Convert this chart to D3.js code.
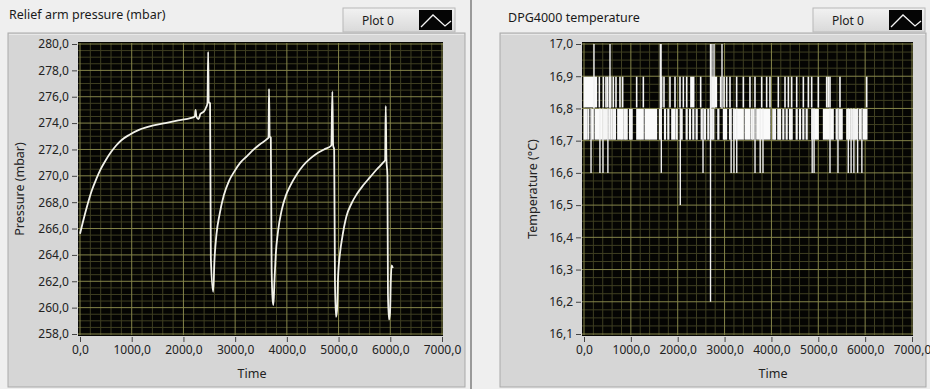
<!DOCTYPE html>
<html><head><meta charset="utf-8">
<script src="https://cdn.jsdelivr.net/npm/d3@7"></script>
<style>
body{margin:0;background:#efefef;}
svg{display:block;font-family:"Noto Sans",sans-serif;}
</style></head><body>
<svg id="c" width="930" height="389"></svg>
<script>
// ---- Relief arm pressure (mbar) vs time (s) ----
const pressureTime = [0,50,130,230,320,400,500,600,700,800,950,1150,1400,1650,1900,2150,2220,2235,2250,2290,2330,2400,2440,2465,2478,2490,2515,2530,
  2575,2600,2640,2700,2780,2880,2980,3100,3230,3360,3480,3620,3645,3655,3668,3690,3705,3725,3740,
  3760,3785,3830,3900,3980,4060,4190,4320,4450,4580,4720,4860,4880,4895,4915,4930,4950,4970,
  4990,5030,5070,5150,5250,5350,5480,5610,5740,5860,5900,5912,5925,5945,5955,5975,5995,6010,6025,6050];
const pressureValue = [265.6,266.4,267.6,268.9,269.8,270.5,271.2,271.8,272.3,272.7,273.1,273.5,273.8,274.0,274.2,274.4,274.5,275.0,274.5,274.3,274.7,274.9,275.2,275.5,279.4,275.6,275.5,263.8,
  261.2,263.6,265.6,267.1,268.5,269.6,270.3,271.0,271.5,272.0,272.4,272.8,272.9,276.6,273.0,272.9,263.0,260.6,260.2,
  262.0,264.0,265.8,267.4,268.5,269.2,270.1,270.8,271.3,271.7,272.0,272.3,276.4,272.3,272.0,262.0,259.3,259.8,
  262.3,264.2,265.3,266.9,267.9,268.6,269.3,269.9,270.5,271.0,271.2,275.3,271.3,270.0,261.0,259.1,259.6,262.0,263.2,263.0];
const pressureTicks = [258,260,262,264,266,268,270,272,274,276,278,280];
const timeTicks = [0,1000,2000,3000,4000,5000,6000,7000];

// ---- DPG4000 temperature (°C), 0.1 °C resolution ----
const tempTicks = [16.1,16.2,16.3,16.4,16.5,16.6,16.7,16.8,16.9,17.0];
// solid stretches where the reading toggles every sample: [from s, to s, low, high]
const tempBlocks = [
  [0,270,16.8,16.9],[2276,2347,16.8,16.9],[2724,2831,16.8,16.9],
  [0,20,16.7,16.8],[164,199,16.7,16.8],[235,377,16.7,16.8],[718,839,16.7,16.8],[1124,1266,16.7,16.8],
  [1302,1551,16.7,16.8],[1871,1942,16.7,16.8],[2973,3045,16.7,16.8],[3187,3401,16.7,16.8],
  [3436,3542,16.7,16.8],[3685,3969,16.7,16.8],[4859,5001,16.7,16.8],[5108,5321,16.7,16.8],
  [5606,5677,16.7,16.8],[5962,6040,16.7,16.8]
];
// single excursions: [time s, low, high]
const tempUpperSpikes = [327,413,469,498,541,569,626,683,768,825,1124,1266,1657,1707,1835,1942,2049,2120,2191,2490,
  2916,2988,3045,3116,3258,3401,3542,3649,3792,3898,3969,4147,4290,4361,4432,4539,4681,4788,4859,5001,5179,5214,5250,5463,6033];
const tempLowerSpikes = [43,92,413,449,484,541,583,626,661,875,911,982,1017,1622,1729,1800,1978,2084,2191,2262,2333,2404,
  2511,2582,2653,2724,2760,2867,3116,3578,3614,4040,4076,4147,4183,4254,4325,4396,4432,4539,4610,4681,4752,
  5392,5463,5499,5712,5748,5783,5819,5890];
const tempOutliers = [
  [213,16.8,17.0],[555,16.8,17.0],[1630,16.8,17.0],[1645,16.8,17.0],[2730,16.8,17.0],[2775,16.8,17.0],[2945,16.8,17.0],
  [2700,16.2,17.0],[2055,16.5,16.8],
  [150,16.6,16.8],[340,16.6,16.8],[405,16.6,16.8],[510,16.6,16.8],[1650,16.6,16.8],[2540,16.6,16.8],[3140,16.6,16.8],
  [3200,16.6,16.8],[3260,16.6,16.8],[3650,16.6,16.8],[3760,16.6,16.8],[3820,16.6,16.8],[4870,16.6,16.8],[4910,16.6,16.8],
  [5250,16.6,16.8],[5420,16.6,16.8],[5640,16.6,16.8],[5700,16.6,16.8],[5760,16.6,16.8],[5840,16.6,16.8],[5930,16.6,16.8]
];

const loc = d3.formatLocale({decimal:",", thousands:"", grouping:[3], currency:["",""]});
const fmt1 = loc.format(".1f");
const svg = d3.select("#c");

function panel(o){
  const g = svg.append("g");
  // frame
  g.append("rect").attr("x",o.px).attr("y",o.py).attr("width",o.pw).attr("height",o.ph)
    .attr("fill","#d6d6d6").attr("stroke","#a9a9a9");
  g.append("line").attr("x1",o.px+1).attr("x2",o.px+o.pw-1).attr("y1",o.py+1.5).attr("y2",o.py+1.5).attr("stroke","#e8e8e8");
  // title strip
  g.append("text").attr("x",o.tx).attr("y",o.ty).attr("font-size",12.5).attr("fill","#1a1a1a").text(o.title);
  // legend
  const lg = g.append("g").attr("transform",`translate(${o.lx},${o.ly})`);
  const grad = svg.append("defs").append("linearGradient").attr("id","lg"+o.id).attr("x1",0).attr("x2",0).attr("y1",0).attr("y2",1);
  grad.append("stop").attr("offset",0).attr("stop-color","#f2f2f2");
  grad.append("stop").attr("offset",1).attr("stop-color","#d9d9d9");
  lg.append("rect").attr("width",112).attr("height",24).attr("fill",`url(#lg${o.id})`).attr("stroke","#b8b8b8");
  lg.append("text").attr("x",19).attr("y",16.5).attr("font-size",12).attr("fill","#1a1a1a").text("Plot 0");
  lg.append("rect").attr("x",76).attr("y",2).attr("width",33).attr("height",20).attr("fill","#050505");
  lg.append("path").attr("d","M78,19 L90,7 L102,18 L108,13").attr("fill","none").attr("stroke","#f4f4f4").attr("stroke-width",1.3);

  // scales
  const x = d3.scaleLinear().domain([0,7000]).range(o.xr);
  const y = d3.scaleLinear().domain(o.yd).range([334,44]);
  const plot = g.append("g");
  plot.append("rect").attr("x",o.xr[0]-2).attr("y",42).attr("width",o.xr[1]-o.xr[0]+3).attr("height",294).attr("fill","#050503");
  // grid
  const gx = plot.append("g");
  const minorX = d3.range(0,7001,200).filter(v=>v%1000!==0);
  const minorY = o.minorY.filter(v=>!o.ticks.some(t=>Math.abs(t-v)<1e-6));
  gx.selectAll(".mx").data(minorX).join("line").attr("x1",x).attr("x2",x).attr("y1",43).attr("y2",335).attr("stroke","#3f3f22").attr("stroke-width",1);
  gx.selectAll(".my").data(minorY).join("line").attr("y1",y).attr("y2",y).attr("x1",o.xr[0]-2).attr("x2",o.xr[1]+1).attr("stroke","#3f3f22").attr("stroke-width",1);
  gx.selectAll(".Mx").data(timeTicks).join("line").attr("x1",x).attr("x2",x).attr("y1",43).attr("y2",335).attr("stroke","#85854a").attr("stroke-width",1);
  gx.selectAll(".My").data(o.ticks).join("line").attr("y1",y).attr("y2",y).attr("x1",o.xr[0]-2).attr("x2",o.xr[1]+1).attr("stroke","#85854a").attr("stroke-width",1);

  // axes
  const ya = g.append("g").attr("transform",`translate(${o.xr[0]-3},0)`)
    .call(d3.axisLeft(y).tickValues(o.ticks).tickFormat(fmt1).tickSize(5).tickPadding(3));
  const xa = g.append("g").attr("transform",`translate(0,337)`)
    .call(d3.axisBottom(x).tickValues(timeTicks).tickFormat(fmt1).tickSize(5).tickPadding(3));
  [ya,xa].forEach(a=>{
    a.select(".domain").remove();
    a.selectAll("line").attr("stroke","#444");
    a.selectAll("text").attr("font-size",12).attr("fill","#222").attr("font-family","'Noto Sans',sans-serif");
  });
  g.append("text").attr("x",o.timeX).attr("y",378).attr("text-anchor","middle").attr("font-size",12.5).attr("fill","#222").text("Time");
  g.append("text").attr("transform",`translate(${o.ylx},189) rotate(-90)`).attr("text-anchor","middle")
    .attr("font-size",12.5).attr("fill","#222").text(o.ylabel);

  const clipId = "clip"+o.id;
  svg.append("defs").append("clipPath").attr("id",clipId).append("rect")
    .attr("x",o.xr[0]-2).attr("y",42).attr("width",o.xr[1]-o.xr[0]+3).attr("height",294);
  const data = plot.append("g").attr("clip-path",`url(#${clipId})`);
  return {x,y,data};
}

// divider between the two front-panel charts
svg.append("line").attr("x1",471).attr("x2",471).attr("y1",0).attr("y2",389).attr("stroke","#9a9a9a").attr("stroke-width",2);

// left chart: pressure
const P = panel({id:"p",px:8,py:33,pw:457,ph:354,tx:9,ty:19,title:"Relief arm pressure (mbar)",lx:343,ly:8,
  xr:[80,442],yd:[258,280],ticks:pressureTicks,minorY:d3.range(258,280.001,0.5),
  timeX:252,ylx:24,ylabel:"Pressure (mbar)"});
const pts = pressureTime.map((t,i)=>[t,pressureValue[i]]);
P.data.append("path").datum(pts)
  .attr("d",d3.line().x(d=>P.x(d[0])).y(d=>P.y(d[1])).curve(d3.curveMonotoneX))
  .attr("fill","none").attr("stroke","#f2f2ea").attr("stroke-width",1.8).attr("stroke-linejoin","round");

// right chart: temperature
const T = panel({id:"t",px:500,py:33,pw:426,ph:354,tx:508,ty:22,title:"DPG4000 temperature",lx:813,ly:8,
  xr:[584,912],yd:[16.1,17.0],ticks:tempTicks,minorY:d3.range(16.1,17.0001,0.025),
  timeX:773,ylx:537,ylabel:"Temperature (°C)"});
T.data.selectAll(".blk").data(tempBlocks).join("rect")
  .attr("x",d=>T.x(d[0])-0.5).attr("width",d=>Math.max(1.5,T.x(d[1])-T.x(d[0])+1))
  .attr("y",d=>T.y(d[3])+0.5).attr("height",d=>T.y(d[2])-T.y(d[3])-1.5).attr("fill","#fafafa");
T.data.selectAll(".us").data(tempUpperSpikes).join("line")
  .attr("x1",d=>T.x(d)).attr("x2",d=>T.x(d)).attr("y1",T.y(16.9)+0.5).attr("y2",T.y(16.8)-1)
  .attr("stroke","#f5f5f5").attr("stroke-width",1.6);
T.data.selectAll(".ls").data(tempLowerSpikes).join("line")
  .attr("x1",d=>T.x(d)).attr("x2",d=>T.x(d)).attr("y1",T.y(16.8)+0.5).attr("y2",T.y(16.7)-1)
  .attr("stroke","#f5f5f5").attr("stroke-width",2.2);
T.data.selectAll(".os").data(tempOutliers).join("line")
  .attr("x1",d=>T.x(d[0])).attr("x2",d=>T.x(d[0])).attr("y1",d=>T.y(d[2])).attr("y2",d=>T.y(d[1]))
  .attr("stroke","#f0f0f0").attr("stroke-width",1.4);
</script>
</body></html>
